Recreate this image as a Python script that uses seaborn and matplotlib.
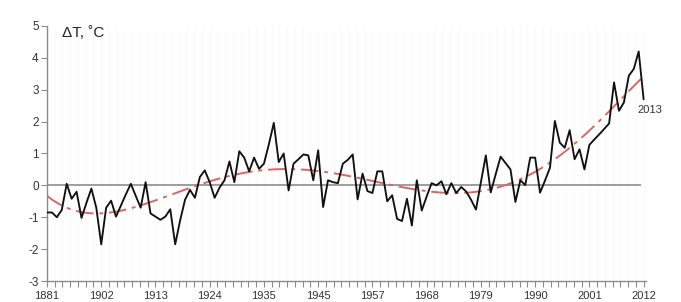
import numpy as np
import pandas as pd
import matplotlib
matplotlib.use("Agg")
import matplotlib.pyplot as plt
import seaborn as sns
from matplotlib.ticker import FixedLocator, FixedFormatter

# ---- data ----
dT = [
    -0.85, -0.85, -1.0, -0.77, 0.05, -0.42, -0.2, -1.02, -0.55, -0.1,
    -0.7, -1.85, -0.7, -0.48, -0.98, -0.63, -0.28, 0.05, -0.33, -0.7,
    0.1, -0.88, -0.98, -1.08, -0.98, -0.75, -1.85, -1.1, -0.45, -0.14,
    -0.39, 0.26, 0.47, 0.1, -0.39, -0.07, 0.16, 0.75, 0.1, 1.07,
    0.87, 0.44, 0.87, 0.52, 0.68, 1.29, 1.96, 0.73, 1.0, -0.16,
    0.68, 0.82, 0.97, 0.94, 0.16, 1.1, -0.68, 0.16, 0.1, 0.07,
    0.68, 0.8, 0.97, -0.44, 0.37, -0.18, -0.24, 0.44, 0.44, -0.5,
    -0.31, -1.05, -1.12, -0.42, -1.26, 0.16, -0.79, -0.35, 0.07, 0.0,
    0.13, -0.28, 0.07, -0.24, -0.05, -0.19, -0.45, -0.76, 0.1, 0.94,
    -0.22, 0.35, 0.9, 0.7, 0.5, -0.52, 0.16, 0.01, 0.87, 0.87,
    -0.23, 0.15, 0.55, 2.02, 1.34, 1.18, 1.73, 0.82, 1.13, 0.5,
    1.27, 1.44, 1.6, 1.77, 1.94, 3.23, 2.34, 2.6, 3.44, 3.65,
    4.2, 2.7,
]
tick_labels = ["1881", "1902", "1913", "1924", "1935", "1945",
               "1957", "1968", "1979", "1990", "2001", "2012"]
y_ticks = [-3, -2, -1, 0, 1, 2, 3, 4, 5]
last_label = "2013"
y_label = "ΔT, ˚C"

idx = np.arange(len(dT))
df = pd.DataFrame({"i": idx, "dT": dT})

sns.set_theme(style="white")
plt.rcParams["font.family"] = ["Liberation Sans", "DejaVu Sans"]

fig = plt.figure(figsize=(6.81, 3.02), dpi=100)
ax = fig.add_axes([0.069, 0.0695, 0.879, 0.8445])

# very faint vertical grid
minor_pos = np.arange(0, 121.01, 11 / 7)
ax.xaxis.set_minor_locator(FixedLocator(minor_pos))
ax.grid(which="minor", axis="x", color="#f8f8f8", lw=0.6)
ax.grid(which="major", axis="x", color="#f8f8f8", lw=0.6)
ax.grid(axis="y", visible=False)

# zero line
ax.hlines(0, 0, 120.5, color="#8c8c8c", lw=1.2, zorder=1)

# trend
sns.regplot(data=df, x="i", y="dT", order=6, ci=None, scatter=False, ax=ax,
            line_kws=dict(color="#dd6464", lw=1.4, ls=(0, (9, 3, 2, 3)), zorder=2))

# data line
sns.lineplot(data=df, x="i", y="dT", color="#111111", lw=1.35, ax=ax, zorder=3)

ax.set_xlim(0, 121.4)
ax.set_ylim(-3, 5)
major_pos = [11 * k for k in range(len(tick_labels))]
ax.xaxis.set_major_locator(FixedLocator(major_pos))
ax.xaxis.set_major_formatter(FixedFormatter(tick_labels))
ax.set_yticks(y_ticks)
ax.set_yticklabels([str(v) for v in y_ticks])
ax.set_xlabel("")
ax.set_ylabel("")

for s in ["top", "right"]:
    ax.spines[s].set_visible(False)
for s in ["left", "bottom"]:
    ax.spines[s].set_color("#8c8c8c")
    ax.spines[s].set_linewidth(1.0)

ax.tick_params(axis="x", which="both", direction="out", length=4, width=0.8,
               color="#8c8c8c", labelsize=8, labelcolor="#333333", pad=3,
               bottom=True)
ax.tick_params(axis="y", which="major", direction="out", length=4, width=0.8,
               color="#8c8c8c", labelsize=8.5, labelcolor="#333333", pad=2,
               left=True)

ax.annotate(last_label, xy=(idx[-1], dT[-1]), xytext=(6, -11),
            textcoords="offset pixels", ha="center", va="center",
            fontsize=8, color="#333333")
fig.text(62 / 681, 1 - 33 / 302, y_label, ha="left", va="center",
         fontsize=11, color="#222222")

fig.savefig("out.png", dpi=100)
